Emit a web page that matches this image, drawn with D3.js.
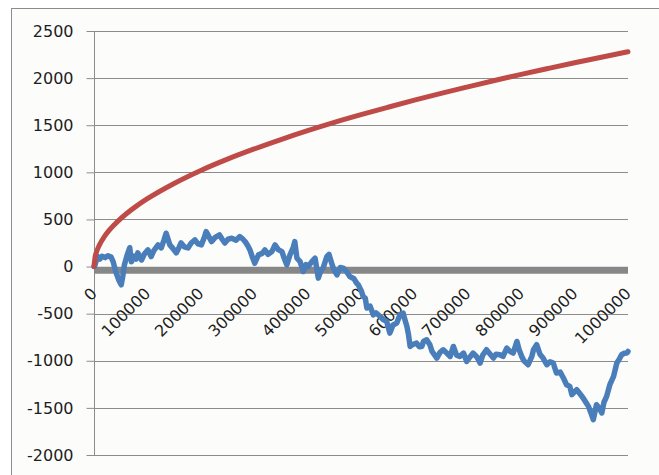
<!DOCTYPE html>
<html>
<head>
<meta charset="utf-8">
<script src="https://cdn.jsdelivr.net/npm/d3@7/dist/d3.min.js"></script>
<style>
  html, body { margin: 0; padding: 0; background: #ffffff; }
  svg { display: block; }
  text { font-family: "DejaVu Sans", Verdana, sans-serif; fill: #1e1e1e; }
</style>
</head>
<body>
<svg id="chart" width="659" height="475"></svg>
<script>
// Axis ticks
const yTicks = [-2000, -1500, -1000, -500, 0, 500, 1000, 1500, 2000, 2500];
const xTicks = [0, 100000, 200000, 300000, 400000, 500000, 600000, 700000, 800000, 900000, 1000000];

// Expected distance curve (step, value)
const expectedSteps = [0, 2000, 5000, 10000, 20000, 40000, 60000, 80000, 100000, 150000, 200000, 250000,
  300000, 350000, 400000, 450000, 500000, 550000, 600000, 650000, 700000, 750000, 800000, 850000,
  900000, 950000, 1000000];
const expectedValues = [0, 100, 160, 228, 322, 455, 558, 644, 720, 882, 1020, 1140,
  1248, 1348, 1442, 1530, 1612, 1690, 1766, 1838, 1907, 1975, 2040, 2102,
  2163, 2222, 2280];

// Random walk position, steps in thousands
const walkSteps = [0, 1, 4, 7, 11, 15, 21, 26, 32, 36, 39, 43, 47, 51, 54, 57, 62, 67, 70, 75, 79, 82, 89, 94,
  101, 107, 112, 120, 126, 131, 135, 142, 148, 154, 159, 163, 169, 176, 182, 189, 195, 201, 206, 210,
  215, 220, 227, 235, 240, 245, 251, 258, 266, 273, 279, 283, 288, 292, 296, 301, 308, 315, 320, 326,
  333, 339, 345, 352, 356, 361, 367, 373, 376, 380, 386, 392, 397, 401, 408, 414, 420, 425, 429, 436,
  440, 445, 449, 455, 461, 467, 473, 479, 487, 492, 495, 501, 504, 508, 511, 517, 523, 528, 536, 542,
  548, 554, 560, 567, 573, 579, 582, 586, 589, 592, 596, 604, 609, 614, 617, 623, 629, 633, 642, 648,
  654, 661, 667, 673, 679, 685, 692, 698, 704, 710, 717, 723, 728, 735, 742, 748, 753, 760, 766, 773,
  779, 785, 792, 796, 801, 805, 813, 820, 823, 829, 835, 841, 848, 854, 860, 866, 873, 879, 885, 891,
  895, 904, 910, 916, 921, 926, 931, 935, 941, 946, 951, 955, 960, 966, 973, 979, 983, 988, 993, 998, 1000];
const walkValues = [0, 0, 60, 106, 80, 110, 95, 115, 100, 50, -20, -90, -150, -194, -100, 20, 120, 200, 50, 110,
  80, 145, 70, 130, 177, 106, 170, 230, 198, 280, 354, 230, 190, 145, 200, 251, 210, 198, 250, 283,
  240, 230, 300, 371, 320, 265, 310, 336, 290, 250, 290, 301, 280, 318, 290, 265, 220, 177, 110, 36,
  124, 140, 177, 130, 159, 230, 180, 159, 90, 18, 124, 200, 265, 89, 53, -53, 20, 0, 53, 89,
  -123, -40, -17, 106, 130, 36, -30, -88, -10, -17, -53, -106, -130, -177, -194, -265, -318, -335, -440, -420,
  -512, -490, -530, -565, -580, -706, -620, -600, -512, -494, -560, -636, -724, -848, -830, -812, -850, -848, -795, -777,
  -830, -901, -971, -910, -883, -920, -954, -848, -940, -954, -918, -1007, -960, -918, -960, -1024, -940, -883, -930, -971,
  -930, -936, -954, -865, -900, -918, -795, -880, -954, -1000, -1042, -954, -883, -830, -930, -971, -1042, -1010, -1024, -1130,
  -1120, -1183, -1254, -1272, -1360, -1307, -1350, -1395, -1440, -1484, -1560, -1625, -1466, -1500, -1554, -1440, -1378, -1254, -1166, -1024,
  -990, -936, -920, -918, -901];

const svg = d3.select("#chart");
const W = 659, H = 475;
const plot = { left: 94, right: 628, top: 31, bottom: 455 };
const fmt = d => String(d);

// Chart area background and border
svg.append("rect")
  .attr("x", 11.5).attr("y", 8.5)
  .attr("width", W + 10).attr("height", H + 10)
  .attr("fill", "#fcfdfb")
  .attr("stroke", "#8c8c8c").attr("stroke-width", 1);

const x = d3.scaleLinear().domain([0, 1000000]).range([plot.left, plot.right]);
const y = d3.scaleLinear().domain([-2000, 2500]).range([plot.bottom, plot.top]);

// Horizontal gridlines
svg.append("g")
  .selectAll("line")
  .data(yTicks)
  .join("line")
  .attr("x1", plot.left).attr("x2", plot.right)
  .attr("y1", d => Math.round(y(d)) + 0.5).attr("y2", d => Math.round(y(d)) + 0.5)
  .attr("stroke", "#8c8c8c").attr("stroke-width", 1);

// Vertical axis with ticks and labels
const yAxis = d3.axisLeft(y).tickValues(yTicks).tickSize(8).tickPadding(13).tickFormat(fmt);
const yg = svg.append("g").attr("transform", `translate(${plot.left + 0.5},0)`).call(yAxis);
yg.select(".domain").attr("stroke", "#8c8c8c").attr("d", `M0,${plot.top}V${plot.bottom}`);
yg.selectAll(".tick line").attr("stroke", "#8c8c8c");
yg.selectAll(".tick text")
  .attr("font-size", 16)
  .attr("font-family", "DejaVu Sans, Verdana, sans-serif")
  .attr("fill", "#1e1e1e");

// Horizontal axis band at zero
svg.append("line")
  .attr("x1", plot.left).attr("x2", plot.right)
  .attr("y1", y(0) + 3.6).attr("y2", y(0) + 3.6)
  .attr("stroke", "#878787").attr("stroke-width", 7);

// Rotated step labels
svg.append("g")
  .selectAll("text")
  .data(xTicks)
  .join("text")
  .attr("transform", d => `translate(${x(d) + 4},${y(0) + 28}) rotate(-45)`)
  .attr("text-anchor", "end")
  .attr("font-size", 16)
  .text(fmt);

// Random walk series
const walk = walkSteps.map((s, i) => [s * 1000, walkValues[i]]);
svg.append("path")
  .datum(walk)
  .attr("fill", "none")
  .attr("stroke", "#4a7ebb")
  .attr("stroke-width", 5.5)
  .attr("stroke-linejoin", "round")
  .attr("stroke-linecap", "round")
  .attr("d", d3.line().x(d => x(d[0])).y(d => y(d[1])));

// Expected distance series
const expected = expectedSteps.map((s, i) => [s, expectedValues[i]]);
svg.append("path")
  .datum(expected)
  .attr("fill", "none")
  .attr("stroke", "#be4b48")
  .attr("stroke-width", 5)
  .attr("stroke-linecap", "round")
  .attr("d", d3.line().curve(d3.curveMonotoneX).x(d => x(d[0])).y(d => y(d[1])));
</script>
</body>
</html>
